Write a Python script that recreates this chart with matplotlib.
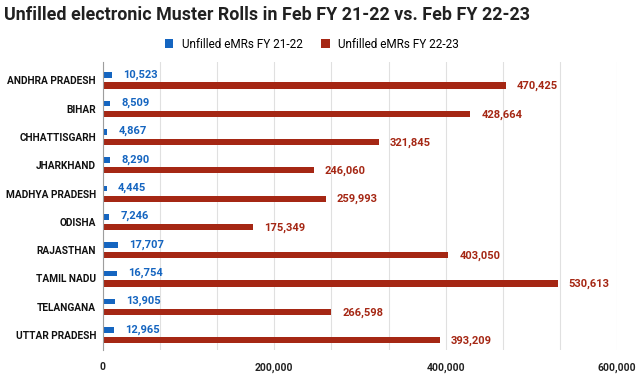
import matplotlib.pyplot as plt
import numpy as np

states = ['ANDHRA PRADESH', 'BIHAR', 'CHHATTISGARH', 'JHARKHAND', 'MADHYA PRADESH',
          'ODISHA', 'RAJASTHAN', 'TAMIL NADU', 'TELANGANA', 'UTTAR PRADESH']
emr_2122 = [10523, 8509, 4867, 8290, 4445, 7246, 17707, 16754, 13905, 12965]
emr_2223 = [470425, 428664, 321845, 246060, 259993, 175349, 403050, 530613, 266598, 393209]
series_names = ['Unfilled eMRs FY 21-22', 'Unfilled eMRs FY 22-23']

blue = '#1565c0'
red = '#a52714'

plt.rcParams['font.family'] = ['Roboto', 'DejaVu Sans']

fig = plt.figure(figsize=(6.39, 3.76), dpi=100)
ax = fig.add_axes([103 / 639, 1 - 350 / 376, 514 / 639, 288 / 376])

y = np.arange(len(states))
ax.barh(y - 0.18, emr_2122, height=0.2, color=blue, label=series_names[0], zorder=3)
ax.barh(y + 0.18, emr_2223, height=0.22, color=red, label=series_names[1], zorder=3)

for i in range(len(states)):
    ax.text(emr_2122[i] + 13000, y[i] - 0.2, f'{emr_2122[i]:,}', color=blue,
            fontsize=8, fontweight='bold', va='center')
    ax.text(emr_2223[i] + 13000, y[i] + 0.2, f'{emr_2223[i]:,}', color=red,
            fontsize=8, fontweight='bold', va='center')

ax.set_xlim(0, 600000)
ax.set_ylim(len(states) - 0.5 + 0.03, -0.5 - 0.15)
ax.set_yticks(y)
ax.set_yticklabels(states, fontsize=7.3, fontweight='bold', color='#111111')
ax.tick_params(axis='y', pad=5)
ax.set_xticks([0, 200000, 400000, 600000])
ax.set_xticklabels(['0', '200,000', '400,000', '600,000'], fontsize=7.5, fontweight='bold',
                   color='#222222')
ax.set_xticks(np.arange(0, 600001, 200000 / 3), minor=True)
ax.grid(axis='x', which='both', color='#e0e0e0', linewidth=0.8, zorder=0)
ax.tick_params(length=0, which='both')
ax.tick_params(axis='x', pad=9)
for s in ['top', 'right', 'bottom']:
    ax.spines[s].set_visible(False)
ax.spines['left'].set_color('#9e9e9e')
ax.spines['left'].set_zorder(4)

fig.text(4 / 639, 1 - 15 / 376, 'Unfilled electronic Muster Rolls in Feb FY 21-22 vs. Feb FY 22-23',
         fontsize=12.9, fontweight='bold', va='center', ha='left', color='#212121')
fig.legend(loc='center', bbox_to_anchor=(312 / 639, 1 - 44 / 376), ncol=2, frameon=False,
           fontsize=8.5, handlelength=0.7, handleheight=0.9, columnspacing=1.6, handletextpad=0.7)

fig.savefig('out.png', dpi=100)
